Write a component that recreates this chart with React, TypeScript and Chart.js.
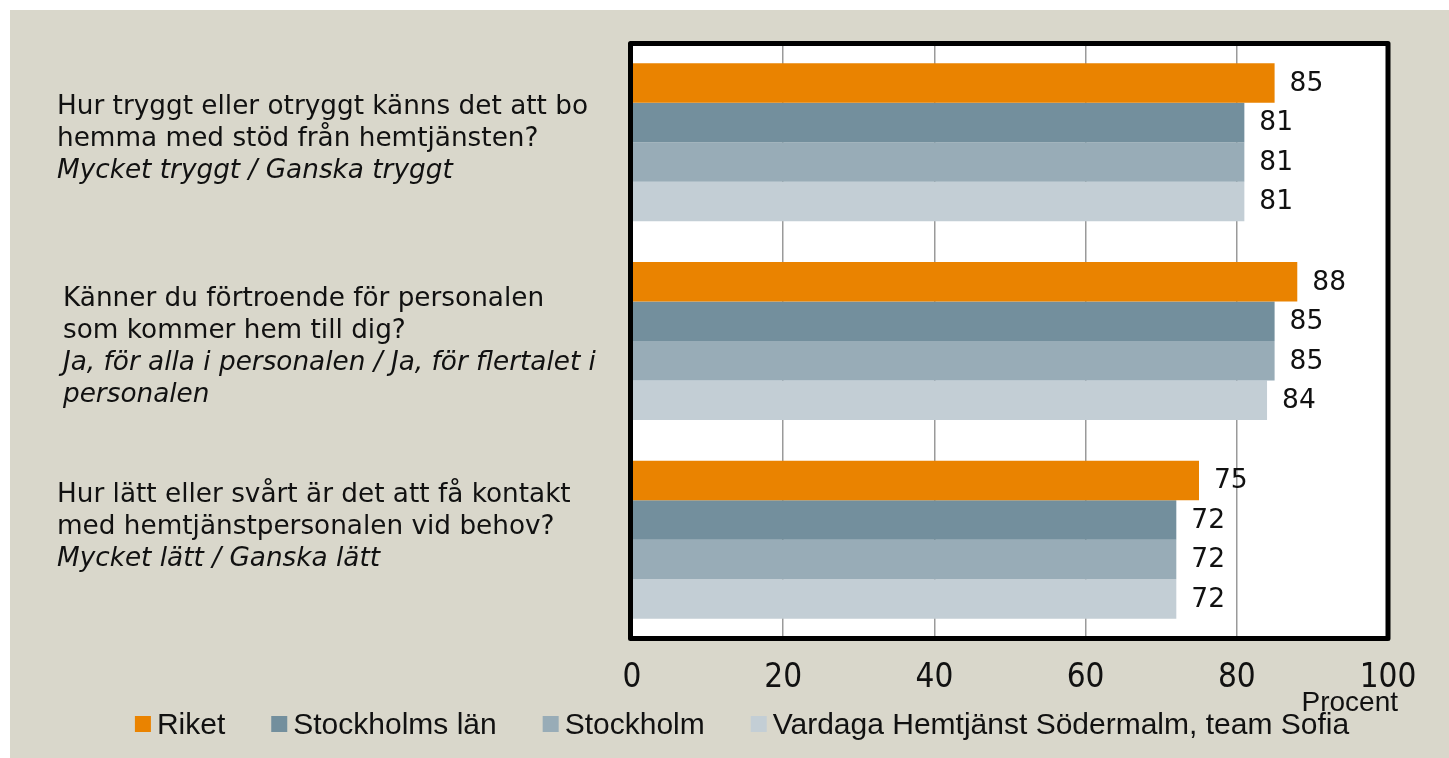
import React, { useEffect, useRef } from "react";
import { Chart, registerables } from "chart.js";

Chart.register(...registerables);

const categories = ["q1", "q2", "q3"];
const questionLines: { text: string; italic: boolean }[][] = [
  [
    { text: "Hur tryggt eller otryggt känns det att bo", italic: false },
    { text: "hemma med stöd från hemtjänsten?", italic: false },
    { text: "Mycket tryggt / Ganska tryggt", italic: true },
  ],
  [
    { text: "Känner du förtroende för personalen", italic: false },
    { text: "som kommer hem till dig?", italic: false },
    { text: "Ja, för alla i personalen / Ja, för flertalet i", italic: true },
    { text: "personalen", italic: true },
  ],
  [
    { text: "Hur lätt eller svårt är det att få kontakt", italic: false },
    { text: "med hemtjänstpersonalen vid behov?", italic: false },
    { text: "Mycket lätt / Ganska lätt", italic: true },
  ],
];
const seriesNames = ["Riket", "Stockholms län", "Stockholm", "Vardaga Hemtjänst Södermalm, team Sofia"];
const riket = [85, 88, 75];
const stockholmsLan = [81, 85, 72];
const stockholm = [81, 85, 72];
const vardaga = [81, 84, 72];
const xTicks = [0, 20, 40, 60, 80, 100];
const axisTitle = "Procent";

// layout / style (not data)
const COLORS = ["#EA8300", "#738F9D", "#98ACB7", "#C3CED5"];
const LABEL_LAYOUT = [
  { x: 47, dy: -3.5 },
  { x: 53, dy: 6.5 },
  { x: 47, dy: -13 },
];
const W = 1439;
const H = 748;

const QFONT = "'DejaVu Sans', 'Noto Sans', sans-serif";
const NFONT = "'Liberation Sans', Arial, sans-serif";
const TFONT = "'Liberation Sans Narrow', 'DejaVu Sans Condensed', 'Liberation Sans', sans-serif";

const framePlugin = {
  id: "frame",
  beforeDraw(chart: any) {
    const ctx = chart.ctx;
    const { left, right, top, bottom } = chart.chartArea;
    ctx.save();
    ctx.fillStyle = "#FFFFFF";
    ctx.fillRect(left, top, right - left, bottom - top);
    ctx.restore();
  },
  afterDatasetsDraw(chart: any) {
    const ctx = chart.ctx;
    const { left, right, top, bottom } = chart.chartArea;
    // value labels
    ctx.save();
    ctx.font = `26.5px ${QFONT}`;
    ctx.fillStyle = "#111";
    ctx.textAlign = "left";
    ctx.textBaseline = "middle";
    chart.data.datasets.forEach((ds: any, di: number) => {
      const meta = chart.getDatasetMeta(di);
      meta.data.forEach((el: any, i: number) => {
        ctx.fillText(String(ds.data[i]), el.x + 15, el.y + 1);
      });
    });
    ctx.restore();

    // frame
    ctx.save();
    ctx.strokeStyle = "#000";
    ctx.lineWidth = 5;
    ctx.lineJoin = "round";
    ctx.strokeRect(left - 1.5, top + 0.5, right - left + 1.5, bottom - top - 1);
    ctx.restore();
  },
  afterDraw(chart: any) {
    const ctx = chart.ctx;
    const yScale = chart.scales.y;
    const xScale = chart.scales.x;
    // question labels
    ctx.save();
    ctx.fillStyle = "#111";
    ctx.textAlign = "left";
    ctx.textBaseline = "middle";
    const lh = 32;
    questionLines.forEach((lines, i) => {
      const cy = yScale.getPixelForValue(i) + LABEL_LAYOUT[i].dy;
      const startY = cy - ((lines.length - 1) * lh) / 2;
      lines.forEach((ln, j) => {
        ctx.font = `${ln.italic ? "italic " : ""}26.3px ${QFONT}`;
        ctx.fillText(ln.text, LABEL_LAYOUT[i].x, startY + j * lh);
      });
    });
    ctx.restore();

    // axis title
    ctx.save();
    ctx.fillStyle = "#111";
    ctx.font = `28px ${NFONT}`;
    ctx.textAlign = "right";
    ctx.textBaseline = "alphabetic";
    ctx.fillText(axisTitle, xScale.getPixelForValue(100) + 10, 701);
    ctx.restore();

    // legend
    ctx.save();
    ctx.font = `30px ${NFONT}`;
    const sq = 16;
    const gapText = 6;
    const gapItem = 46;
    const widths = seriesNames.map((n) => ctx.measureText(n).width);
    const total = widths.reduce((a, w) => a + sq + gapText + w, 0) + gapItem * (seriesNames.length - 1);
    let x = 732 - total / 2;
    const baseY = 724;
    ctx.textAlign = "left";
    ctx.textBaseline = "alphabetic";
    seriesNames.forEach((n, i) => {
      ctx.fillStyle = COLORS[i];
      ctx.fillRect(x, baseY - 18, sq, sq);
      ctx.fillStyle = "#111";
      ctx.fillText(n, x + sq + gapText, baseY);
      x += sq + gapText + widths[i] + gapItem;
    });
    ctx.restore();
  },
};

export default function App() {
  const ref = useRef<HTMLCanvasElement | null>(null);
  useEffect(() => {
    document.body.style.overflow = "hidden";
    const seriesData = [riket, stockholmsLan, stockholm, vardaga];
    const chart = new Chart(ref.current as HTMLCanvasElement, {
      type: "bar",
      data: {
        labels: categories,
        datasets: seriesNames.map((name, i) => ({
          label: name,
          data: seriesData[i],
          backgroundColor: COLORS[i],
          borderWidth: 0,
          categoryPercentage: 0.795,
          barPercentage: 1.0,
        })),
      },
      options: {
        indexAxis: "y",
        animation: false,
        responsive: false,
        devicePixelRatio: 1,
        layout: { padding: { left: 622, right: 61, top: 33, bottom: 0 } },
        plugins: { legend: { display: false }, tooltip: { enabled: false } },
        scales: {
          y: { type: "category", display: false },
          x: {
            type: "linear",
            min: 0,
            max: 100,
            afterBuildTicks(scale: any) {
              scale.ticks = xTicks.map((v) => ({ value: v }));
            },
            afterFit(scale: any) {
              scale.height = 119;
            },
            grid: { color: "#9a9a9a", lineWidth: 1.5, drawTicks: false },
            border: { display: false },
            ticks: {
              padding: 20,
              color: "#111",
              font: { family: TFONT, size: 33 },
              maxRotation: 0,
            },
          },
        },
      },
      plugins: [framePlugin],
    } as any);
    return () => chart.destroy();
  }, []);
  return (
    <div style={{ position: "absolute", left: 10, top: 10, width: W, height: H, background: "#D9D7CB" }}>
      <canvas ref={ref} width={W} height={H} style={{ display: "block", width: W, height: H }} />
    </div>
  );
}
